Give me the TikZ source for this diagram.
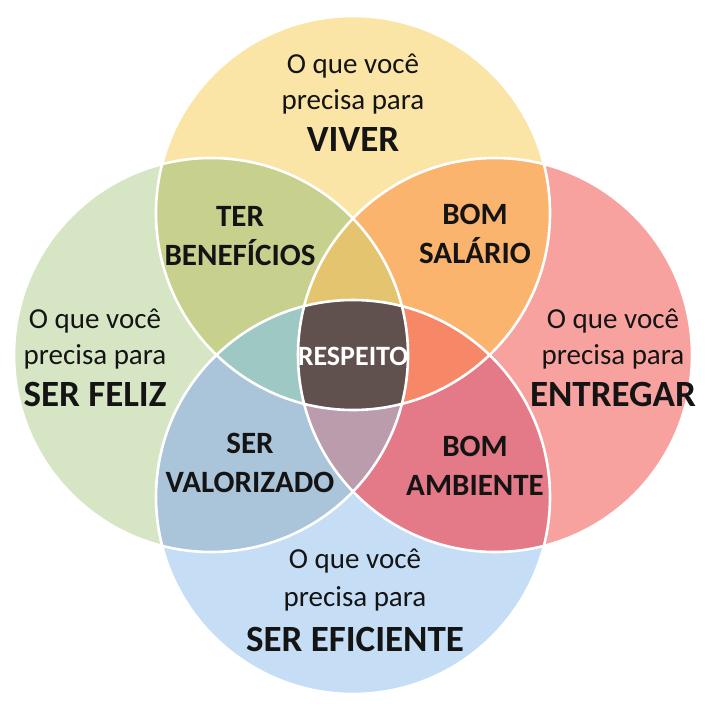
\documentclass[tikz,border=0pt]{standalone}
\usepackage{fontspec}
\setmainfont{Carlito}
\definecolor{cT}{HTML}{FAE5A6}
\definecolor{cL}{HTML}{D6E6C4}
\definecolor{cR}{HTML}{F8A2A0}
\definecolor{cB}{HTML}{C6DDF6}
\definecolor{cTL}{HTML}{C8D08E}
\definecolor{cTR}{HTML}{FAB46E}
\definecolor{cLB}{HTML}{AAC4DA}
\definecolor{cRB}{HTML}{E47A88}
\definecolor{cTLR}{HTML}{E4C46E}
\definecolor{cTLB}{HTML}{9EC8C4}
\definecolor{cTRB}{HTML}{F68868}
\definecolor{cLRB}{HTML}{BA9CAC}
\definecolor{cAll}{HTML}{60504E}
\definecolor{ink}{HTML}{141414}
\tikzset{
  reg/.style={font=\fontsize{29}{35}\selectfont, text=ink, anchor=base, inner sep=0pt},
  big/.style={font=\bfseries\fontsize{37}{44}\selectfont, text=ink, anchor=base, inner sep=0pt},
  inter/.style={font=\bfseries\fontsize{31}{38}\selectfont, text=ink, anchor=base, inner sep=0pt},
  ring/.style={draw=white, line width=2.6pt}
}
\newcommand{\rr}{197}
\begin{document}
\begin{tikzpicture}[x=1pt,y=-1pt]
\useasboundingbox (0,0) rectangle (715,704);
\fill[white] (0,0) rectangle (715,704);
\coordinate (T) at (353,213);
\coordinate (B) at (353,497);
\coordinate (L) at (211,355);
\coordinate (R) at (495,355);
% single circles
\fill[cT] (T) circle (\rr);
\fill[cL] (L) circle (\rr);
\fill[cR] (R) circle (\rr);
\fill[cB] (B) circle (\rr);
% pairs
\begin{scope}\clip (T) circle (\rr); \fill[cTL] (L) circle (\rr); \fill[cTR] (R) circle (\rr);\end{scope}
\begin{scope}\clip (B) circle (\rr); \fill[cLB] (L) circle (\rr); \fill[cRB] (R) circle (\rr);\end{scope}
% triples
\begin{scope}\clip (L) circle (\rr); \clip (R) circle (\rr); \fill[cTLR] (T) circle (\rr); \fill[cLRB] (B) circle (\rr);\end{scope}
\begin{scope}\clip (T) circle (\rr); \clip (B) circle (\rr); \fill[cTLB] (L) circle (\rr); \fill[cTRB] (R) circle (\rr);\end{scope}
% all four
\begin{scope}\clip (T) circle (\rr); \clip (B) circle (\rr); \clip (L) circle (\rr); \fill[cAll] (R) circle (\rr);\end{scope}
% white outlines
\draw[ring] (T) circle (\rr);
\draw[ring] (L) circle (\rr);
\draw[ring] (R) circle (\rr);
\draw[ring] (B) circle (\rr);
% outer labels
\node[reg] (t1) at (353,73) {O que você};
\node[reg] (t2) at (353,109) {precisa para};
\node[big] (t3) at (353,151) {VIVER};
\node[reg] (l1) at (95,328) {O que você};
\node[reg] (l2) at (95,364) {precisa para};
\node[big] (l3) at (95,406) {SER FELIZ};
\node[reg] (r1) at (613,328) {O que você};
\node[reg] (r2) at (613,364) {precisa para};
\node[big] (r3) at (613,406) {ENTREGAR};
\node[reg] (b1) at (355,568) {O que você};
\node[reg] (b2) at (355,606) {precisa para};
\node[big] (b3) at (355,651) {SER EFICIENTE};
% intersection labels
\node[inter] (tl1) at (240,226) {TER};
\node[inter] (tl2) at (240,265) {BENEFÍCIOS};
\node[inter] (tr1) at (475,224) {BOM};
\node[inter] (tr2) at (475,263) {SALÁRIO};
\node[inter] (lb1) at (250,453) {SER};
\node[inter] (lb2) at (250,492) {VALORIZADO};
\node[inter] (rb1) at (475,456) {BOM};
\node[inter] (rb2) at (475,495) {AMBIENTE};
\node[font=\bfseries\fontsize{28}{34}\selectfont, text=white, anchor=base, inner sep=0pt] (c) at (353,365) {RESPEITO};
\end{tikzpicture}
\end{document}
